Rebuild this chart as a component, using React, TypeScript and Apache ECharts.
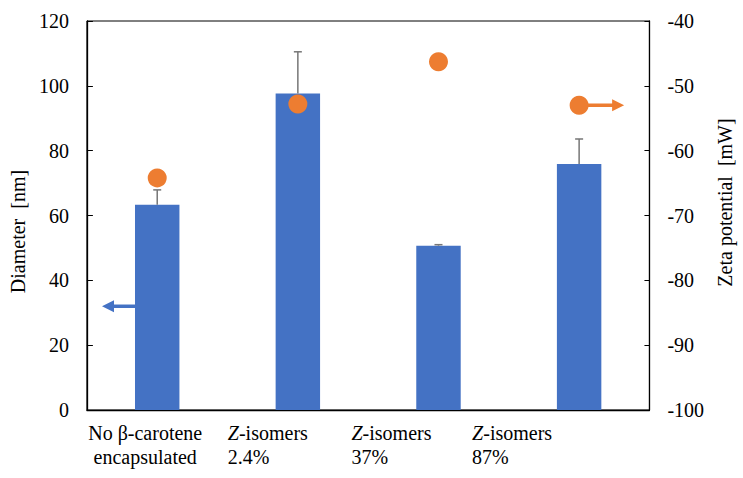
import React, { useEffect, useRef } from "react";
import * as echarts from "echarts";

const categories = ["No β-carotene\nencapsulated", "Z-isomers\n2.4%", "Z-isomers\n37%", "Z-isomers\n87%"];
const labelTexts = ["No β-carotene\nencapsulated", "{i|Z}-isomers\n2.4%", "{i|Z}-isomers\n37%", "{i|Z}-isomers\n87%"];
const diameter = [63.3, 97.6, 50.7, 75.9];
const diameterErrTop = [67.9, 110.5, 51.0, 83.6];
const zeta = [-64.2, -52.8, -46.3, -53.0];
const leftArrow = [[0, 32]];
const rightArrow = [[3, -53]];

const FONT = "Times New Roman, Liberation Serif, DejaVu Serif, serif";
const BLUE = "#4472C4";
const ORANGE = "#ED7D31";

export default function App() {
  const ref = useRef<HTMLDivElement>(null);
  useEffect(() => {
    if (!ref.current) return;
    const chart = echarts.init(ref.current, undefined, { renderer: "svg" });
    const axisLabel = { fontSize: 20, fontFamily: FONT, color: "#000", margin: 18 };
    const option: any = {
      animation: false,
      textStyle: { fontFamily: FONT, fontSize: 20 },
      grid: { left: 85, right: 89, top: 21, bottom: 68, show: true, borderColor: "#000", borderWidth: 1 },
      xAxis: {
        type: "category",
        data: categories,
        axisLine: { lineStyle: { color: "#000", width: 1.3 } },
        axisTick: { show: false },
        axisLabel: { show: false },
      },
      yAxis: [
        {
          type: "value",
          min: 0,
          max: 120,
          interval: 20,
          name: "Diameter  [nm]",
          nameLocation: "middle",
          nameGap: 51,
          nameTextStyle: { fontSize: 20, fontFamily: FONT, color: "#000", padding: [0, 32, 0, 0] },
          axisLine: { show: true, lineStyle: { color: "#000", width: 1.3 } },
          axisTick: { show: true, inside: true, length: 6, lineStyle: { color: "#000" } },
          splitLine: { show: false },
          axisLabel,
        },
        {
          type: "value",
          min: -100,
          max: -40,
          interval: 10,
          position: "right",
          name: "Zeta potential  [mW]",
          nameLocation: "middle",
          nameGap: 63,
          nameRotate: 90,
          nameTextStyle: { fontSize: 20, fontFamily: FONT, color: "#000", padding: [0, 0, 0, 26] },
          axisLine: { show: true, lineStyle: { color: "#000", width: 1.3 } },
          axisTick: { show: true, inside: true, length: 5, lineStyle: { color: "#000" } },
          splitLine: { show: false },
          axisLabel,
        },
      ],
      series: [
        {
          type: "bar",
          data: diameter,
          barWidth: "31.6%",
          itemStyle: { color: BLUE },
          z: 2,
        },
        {
          type: "custom",
          z: 3,
          data: diameter.map((v, i) => [i, v, diameterErrTop[i]]),
          renderItem: (params: any, api: any) => {
            const i = api.value(0);
            const base = api.coord([i, api.value(1)]);
            const top = api.coord([i, api.value(2)]);
            const style = { stroke: "#767676", lineWidth: 1.5 };
            return {
              type: "group",
              children: [
                { type: "line", shape: { x1: top[0], y1: base[1], x2: top[0], y2: top[1] }, style },
                { type: "line", shape: { x1: top[0] - 4, y1: top[1], x2: top[0] + 4, y2: top[1] }, style },
              ],
            };
          },
        },
        {
          type: "custom",
          z: 3,
          data: leftArrow,
          renderItem: (params: any, api: any) => {
            const p = api.coord([api.value(0), api.value(1)]);
            const bw = api.size([1, 0])[0] * 0.316;
            const x0 = p[0] - bw / 2;
            const tip = x0 - 33;
            return {
              type: "group",
              children: [
                { type: "line", shape: { x1: x0, y1: p[1], x2: tip + 10, y2: p[1] }, style: { stroke: BLUE, lineWidth: 3.5 } },
                { type: "polygon", shape: { points: [[tip, p[1]], [tip + 12, p[1] - 6], [tip + 12, p[1] + 6]] }, style: { fill: BLUE } },
              ],
            };
          },
        },
        {
          type: "custom",
          z: 3,
          yAxisIndex: 1,
          data: rightArrow,
          renderItem: (params: any, api: any) => {
            const p = api.coord([api.value(0), api.value(1)]);
            const tip = p[0] + 45;
            return {
              type: "group",
              children: [
                { type: "line", shape: { x1: p[0], y1: p[1], x2: tip - 10, y2: p[1] }, style: { stroke: ORANGE, lineWidth: 3.5 } },
                { type: "polygon", shape: { points: [[tip, p[1]], [tip - 12, p[1] - 6], [tip - 12, p[1] + 6]] }, style: { fill: ORANGE } },
              ],
            };
          },
        },
        {
          type: "scatter",
          yAxisIndex: 1,
          data: zeta,
          symbol: "circle",
          symbolSize: 19,
          itemStyle: { color: ORANGE, opacity: 1 },
          z: 5,
        },
      ],
    };
    chart.setOption(option);
    const offsets = [-12, -70, -87, -107];
    const graphics = labelTexts.map((t, i) => {
      const cx = chart.convertToPixel({ xAxisIndex: 0 }, i) as number;
      const first = i === 0;
      return {
        type: "text",
        x: cx + offsets[i],
        y: 421,
        style: {
          text: t,
          fontSize: 20,
          fontFamily: FONT,
          fill: "#000",
          lineHeight: 24,
          align: first ? "center" : "left",
          verticalAlign: "top",
          rich: { i: { fontStyle: "italic", fontSize: 20, fontFamily: FONT, fill: "#000" } },
        },
      };
    });
    chart.setOption({ graphic: graphics });
    return () => chart.dispose();
  }, []);
  return <div ref={ref} style={{ width: 743, height: 478, position: "absolute", left: 0, top: 0 }} />;
}
